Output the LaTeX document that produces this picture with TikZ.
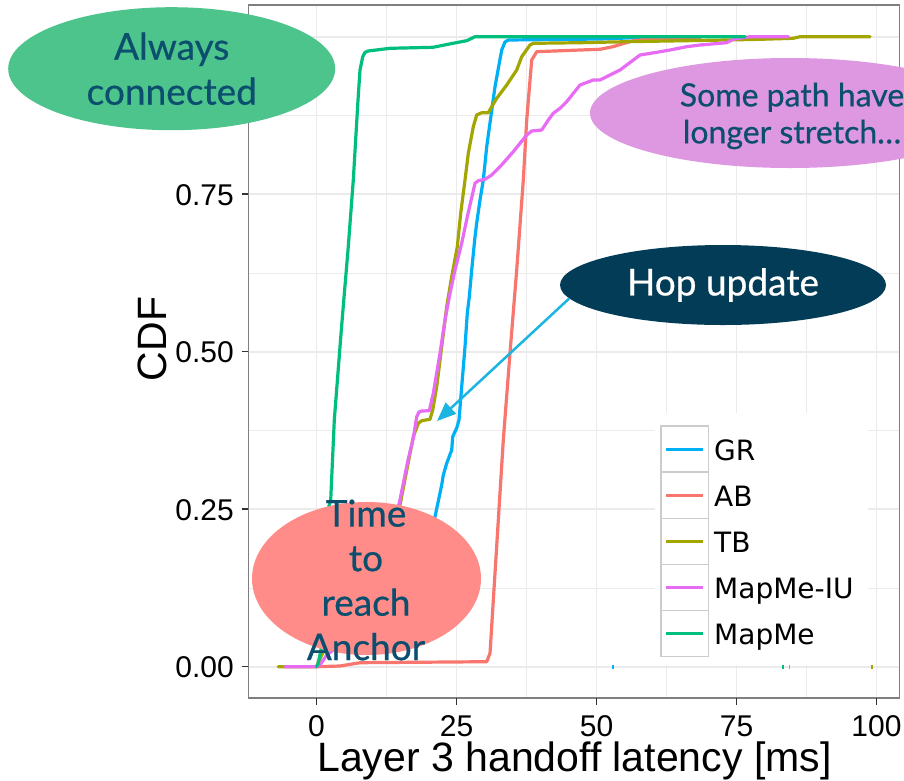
\documentclass[tikz,border=0pt]{standalone}
\usepackage{fontspec}
\setmainfont{Liberation Sans}
\newfontfamily\annfont{Lato}[FakeBold=0.6]
\newfontfamily\legfont{DejaVu Sans}
\usetikzlibrary{shapes.geometric,arrows.meta}

% series colours (ggplot hue palette)
\definecolor{grGR}{HTML}{00B0F6}
\definecolor{grAB}{HTML}{F8766D}
\definecolor{grTB}{HTML}{A3A500}
\definecolor{grIU}{HTML}{E76BF3}
\definecolor{grMM}{HTML}{00BF7D}
% frame and grid
\definecolor{gridcol}{HTML}{EBEBEB}
\definecolor{framecol}{HTML}{7F7F7F}
\definecolor{tickcol}{HTML}{333333}
\definecolor{keycol}{HTML}{CCCCCC}
% callouts
\definecolor{anntext}{RGB}{12,78,110}
\definecolor{bubgreen}{RGB}{76,196,140}
\definecolor{bubpink}{RGB}{222,152,226}
\definecolor{bubnavy}{RGB}{3,60,86}
\definecolor{bubsalmon}{RGB}{255,140,136}
\definecolor{arrowcol}{RGB}{26,181,224}

\tikzset{
  gridmajor/.style={draw=gridcol, line width=1.6pt},
  gridminor/.style={draw=gridcol, line width=0.8pt},
  curve/.style={line width=3.2pt, line join=round, line cap=round},
  tickmark/.style={draw=tickcol, line width=1.5pt},
  ticklabel/.style={inner sep=0pt, font=\fontsize{30}{36}\selectfont},
  axistitle/.style={inner sep=0pt, font=\fontsize{41}{48}\selectfont},
  keybox/.style={draw=keycol, line width=1.4pt, fill=white},
  keyline/.style={line width=3pt},
  legtext/.style={inner sep=0pt, anchor=base west, font=\legfont\fontsize{28}{34}\selectfont},
  blob/.style={ellipse, inner sep=0pt, draw=none},
  blobtext/.style={inner sep=0pt, align=center, text=anntext},
  hoparrow/.style={draw=arrowcol, line width=2.5pt, -{Triangle[length=19pt,width=15pt]}},
}

\begin{document}
\begin{tikzpicture}[x=1pt, y=-1pt]
\useasboundingbox (0,0) rectangle (904,780);
\clip (0,0) rectangle (904,780);
\fill[white] (0,0) rectangle (904,780);

% ---- grid ----
\foreach \gx in {386.5,526.5,666.5,806.5} \draw[gridminor] (\gx,5) -- (\gx,698);
\foreach \gy in {115.45,272.95,430.45,587.95} \draw[gridminor] (248,\gy) -- (900,\gy);
\foreach \gx in {316.5,456.5,596.5,736.5,876.5} \draw[gridmajor] (\gx,5) -- (\gx,698);
\foreach \gy in {36.7,194.2,351.7,509.2,666.7} \draw[gridmajor] (248,\gy) -- (900,\gy);

% ---- CDF curves ----
% GR
\draw[curve, grGR] plot coordinates {(420,600) (435,516.7) (441.7,485) (443.3,475)
  (446.7,463.3) (451.7,450) (452.7,436.7) (456.7,428) (459,420) (461.7,386.7)
  (465,346.7) (467.3,313) (469.3,296.7) (471.7,270) (475,236.7) (476.7,223)
  (480,200) (483.3,180) (486.7,146.7) (495,86.7) (499.3,63) (501.7,50) (505,42)
  (508.3,40) (600,39) (640,37.5)};
% AB
\draw[curve, grAB] plot coordinates {(316.5,666.7) (340,666) (360,662.7) (486.7,661.7)
  (490,653.3) (503.3,440) (510,353) (516.7,270) (523.3,180) (526.7,120) (531.7,60)
  (536.7,51.7) (580,50) (600,49.3) (613,46.7) (633,40.7) (646.7,39.3) (700,38)};
% TB
\draw[curve, grTB] plot coordinates {(278.3,666.7) (316.5,666.7) (321.7,655) (400,505)
  (413.3,436.7) (418.3,423.3) (421.7,420.7) (430,419.3) (432.7,410) (436.7,386.7)
  (441.7,346.7) (446.7,306.7) (451.7,276.7) (457.3,246.7) (460.7,213.3) (465,180)
  (468.3,153.3) (473.3,126.7) (476.7,115) (481.7,112.7) (488.3,112.7) (491.7,106.7)
  (496.7,98.3) (506.7,85) (516.7,70) (521.7,56.7) (530,45) (533.3,43.3) (580,42.7)
  (626.7,41.7) (726.7,40) (760,39.3) (793.3,38.3) (800,36.7) (870,36.7)};
% MapMe-IU
\draw[curve, grIU] plot coordinates {(285,666.7) (316.5,666.7) (320,665) (326.7,655)
  (333.3,650) (399.3,503.3) (408,460) (413.3,438.3) (416.7,416.7) (419,412)
  (421.7,411) (429.3,410.7) (433.3,393.3) (440,353.3) (445,320) (450,293.3)
  (455,270) (461.7,243.3) (467.3,216.7) (472.7,193.3) (475,183.3) (478.3,180.7)
  (485,179.3) (491.7,175) (500,166.7) (513.3,151.7) (526.7,135) (531.7,131)
  (541.7,130) (548.3,120) (553.3,113.3) (560,108.3) (566.7,101.7) (580,85)
  (593.3,80) (600,80) (620,70) (640,55) (656.7,52.3) (670,50) (686.7,46.7)
  (700,45) (726.7,42.7) (733.3,39.3) (750,36.7) (788.3,36.7)};
% MapMe
\draw[curve, grMM] plot coordinates {(316.5,666.7) (318,664) (321,650) (329,506)
  (330.7,500) (334.3,420) (340,346.7) (342.7,313) (348,250) (353.3,180) (358,100)
  (360,70) (362.7,56.7) (365,52.5) (368,51) (390,48.3) (433,47.3) (453,43.3)
  (466.7,40.7) (475,36.7) (745,36.7)};
% isolated samples on the zero line
\draw[grGR, line width=1.4pt] (613,664.5) -- (613,669);
\draw[grMM, line width=1.4pt] (783,664.5) -- (783,669);
\draw[grIU, line width=1.4pt] (789.5,664.5) -- (789.5,669);
\draw[grTB, line width=1.4pt] (872,664.5) -- (872,669);

% ---- panel frame and ticks ----
\draw[framecol, line width=1.4pt] (248.3,5) rectangle (899.5,698);
\foreach \gy/\lab [count=\i] in {36.7/{},194.2/0.75,351.7/0.50,509.2/0.25,666.7/0.00} {
  \ifnum\i>1
  \draw[tickmark] (241.7,\gy) -- (248.3,\gy);
  \node[ticklabel, anchor=base east] (yt\i) at (234,\gy+10.8) {\lab};
  \fi
}
\foreach \gx/\lab [count=\i] in {316.5/0,456.5/25,596.5/50,736.5/75,876.5/100} {
  \draw[tickmark] (\gx,698) -- (\gx,705);
  \node[ticklabel, anchor=base] (xt\i) at (\gx,736.7) {\lab};
}
\node[axistitle, anchor=base] (xtitle) at (574.5,771) {Layer 3 handoff latency [ms]};
\node[axistitle, anchor=base, rotate=90] (ytitle) at (166.7,339) {CDF};

% ---- legend ----
\fill[white] (655,413) rectangle (868,665);
\foreach \lab/\col [count=\i] in {GR/grGR, AB/grAB, TB/grTB, MapMe-IU/grIU, MapMe/grMM} {
  \pgfmathsetmacro{\rowtop}{426+46.15*(\i-1)}
  \pgfmathsetmacro{\rowmid}{\rowtop+23.075}
  \draw[keybox] (661,\rowtop) rectangle (708.3,\rowtop+46.15);
  \draw[keyline, \col] (666,\rowmid) -- (703.3,\rowmid);
  \node[legtext] (leg\i) at (714,\rowmid+11) {\lab};
}

% ---- callouts ----
\node[blob, fill=bubgreen, minimum width=327pt, minimum height=123pt] (always) at (171.7,68.7) {};
\node[blobtext, font=\annfont\fontsize{37}{45}\selectfont] (alwaystxt) at (always.center) {Always\\connected};

\node[blob, fill=bubpink, minimum width=400pt, minimum height=110pt] (stretch) at (790,113) {};
\node[blobtext, font=\annfont\fontsize{32}{37}\selectfont] (stretchtxt) at (792,116) {Some path have\\longer stretch…};

\node[blob, fill=bubnavy, minimum width=326pt, minimum height=80pt] (hop) at (723,285) {};
\node[blobtext, text=white, font=\annfont\fontsize{37}{44}\selectfont] (hoptxt) at (hop.center) {Hop update};
\coordinate (hoptip) at (437,421);
\draw[hoparrow] (hop.185) -- (hoptip);

\node[blob, fill=bubsalmon, minimum width=229pt, minimum height=153pt] (anchor) at (366.5,578.5) {};
\node[blobtext, font=\annfont\fontsize{37}{44.5}\selectfont] (anchortxt) at (366,580) {Time\\to\\reach\\Anchor};
\end{tikzpicture}
\end{document}
